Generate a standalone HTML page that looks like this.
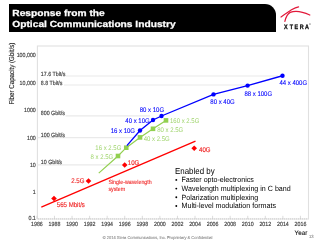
<!DOCTYPE html>
<html><head><meta charset="utf-8"><style>
html,body{margin:0;padding:0;background:#fff;}
svg{display:block;font-family:"Liberation Sans", sans-serif;will-change:transform;text-rendering:geometricPrecision;}
</style></head><body>
<svg width="320" height="240" viewBox="0 0 320 240">
<rect width="320" height="240" fill="#fff"/>
<path d="M9 4 H265 A11 11 0 0 1 276 15 V32 H9 Z" fill="#000"/>
<text transform="translate(12.3 15.7) scale(1.15 1)" font-size="8.9" font-weight="bold" fill="#fff" stroke="#fff" stroke-width="0.25">Response from the</text>
<text transform="translate(12.3 26.8) scale(1.15 1)" font-size="8.9" font-weight="bold" fill="#fff" stroke="#fff" stroke-width="0.25">Optical Communications Industry</text>
<g fill="none" stroke="#e2183a" stroke-linecap="round"><path d="M281 17 C285 14.2 289 11.6 292 9.6 C294.5 8 296.5 7.2 298.6 6.8" stroke-width="1.2"/><path d="M284.9 21.3 C285.9 17 287.4 14 290.2 12.4 C294.5 10.6 302.5 11.6 309.8 15" stroke-width="1.25"/></g>
<text transform="translate(285.75 28.8) scale(0.85 1)" font-size="6.4" font-weight="bold" fill="#111" stroke="#111" stroke-width="0.3" text-anchor="middle">X</text>
<text transform="translate(291.35 28.8) scale(0.85 1)" font-size="6.4" font-weight="bold" fill="#111" stroke="#111" stroke-width="0.3" text-anchor="middle">T</text>
<text transform="translate(296.35 28.8) scale(0.85 1)" font-size="6.4" font-weight="bold" fill="#111" stroke="#111" stroke-width="0.3" text-anchor="middle">E</text>
<text transform="translate(301.7 28.8) scale(0.85 1)" font-size="6.4" font-weight="bold" fill="#111" stroke="#111" stroke-width="0.3" text-anchor="middle">R</text>
<text transform="translate(306.85 28.8) scale(0.85 1)" font-size="6.4" font-weight="bold" fill="#111" stroke="#111" stroke-width="0.3" text-anchor="middle">A</text>
<text x="309" y="25" font-size="2.6" fill="#555">®</text>
<rect x="37.4" y="46" width="271.1" height="173" fill="none" stroke="#e0e0e0" stroke-width="1.1"/>
<line x1="65.5" y1="76" x2="278" y2="76" stroke="#eaeaea" stroke-width="1.2"/>
<line x1="64" y1="85" x2="245" y2="85" stroke="#eaeaea" stroke-width="1.2"/>
<line x1="65.5" y1="115.9" x2="150" y2="115.9" stroke="#eaeaea" stroke-width="1.2"/>
<line x1="37.5" y1="137.6" x2="134" y2="137.6" stroke="#eaeaea" stroke-width="1.2"/>
<line x1="37.5" y1="164.8" x2="122" y2="164.8" stroke="#eaeaea" stroke-width="1.2"/>
<line x1="36.90" y1="215.8" x2="36.90" y2="219" stroke="#c4c4c4" stroke-width="0.6"/>
<line x1="54.47" y1="215.8" x2="54.47" y2="219" stroke="#c4c4c4" stroke-width="0.6"/>
<line x1="72.04" y1="215.8" x2="72.04" y2="219" stroke="#c4c4c4" stroke-width="0.6"/>
<line x1="89.61" y1="215.8" x2="89.61" y2="219" stroke="#c4c4c4" stroke-width="0.6"/>
<line x1="107.18" y1="215.8" x2="107.18" y2="219" stroke="#c4c4c4" stroke-width="0.6"/>
<line x1="124.75" y1="215.8" x2="124.75" y2="219" stroke="#c4c4c4" stroke-width="0.6"/>
<line x1="142.32" y1="215.8" x2="142.32" y2="219" stroke="#c4c4c4" stroke-width="0.6"/>
<line x1="159.89" y1="215.8" x2="159.89" y2="219" stroke="#c4c4c4" stroke-width="0.6"/>
<line x1="177.46" y1="215.8" x2="177.46" y2="219" stroke="#c4c4c4" stroke-width="0.6"/>
<line x1="195.03" y1="215.8" x2="195.03" y2="219" stroke="#c4c4c4" stroke-width="0.6"/>
<line x1="212.60" y1="215.8" x2="212.60" y2="219" stroke="#c4c4c4" stroke-width="0.6"/>
<line x1="230.17" y1="215.8" x2="230.17" y2="219" stroke="#c4c4c4" stroke-width="0.6"/>
<line x1="247.74" y1="215.8" x2="247.74" y2="219" stroke="#c4c4c4" stroke-width="0.6"/>
<line x1="265.31" y1="215.8" x2="265.31" y2="219" stroke="#c4c4c4" stroke-width="0.6"/>
<line x1="282.88" y1="215.8" x2="282.88" y2="219" stroke="#c4c4c4" stroke-width="0.6"/>
<line x1="300.45" y1="215.8" x2="300.45" y2="219" stroke="#c4c4c4" stroke-width="0.6"/>
<line x1="38" y1="218.9" x2="308" y2="218.9" stroke="#c8c8c8" stroke-width="0.8" stroke-dasharray="1 1"/>
<text transform="translate(35.80 57.00) scale(0.89 1)" font-size="5.96" fill="#3c3c3c" stroke="#3c3c3c" stroke-width="0.15" text-anchor="end">100,000</text>
<text transform="translate(35.80 84.80) scale(0.89 1)" font-size="5.96" fill="#3c3c3c" stroke="#3c3c3c" stroke-width="0.15" text-anchor="end">10,000</text>
<text transform="translate(35.80 111.90) scale(0.89 1)" font-size="5.96" fill="#3c3c3c" stroke="#3c3c3c" stroke-width="0.15" text-anchor="end">1000</text>
<text transform="translate(35.80 139.50) scale(0.89 1)" font-size="5.96" fill="#3c3c3c" stroke="#3c3c3c" stroke-width="0.15" text-anchor="end">100</text>
<text transform="translate(35.80 166.80) scale(0.89 1)" font-size="5.96" fill="#3c3c3c" stroke="#3c3c3c" stroke-width="0.15" text-anchor="end">10</text>
<text transform="translate(35.80 194.20) scale(0.89 1)" font-size="5.96" fill="#3c3c3c" stroke="#3c3c3c" stroke-width="0.15" text-anchor="end">1</text>
<text transform="translate(35.80 220.10) scale(0.89 1)" font-size="5.96" fill="#3c3c3c" stroke="#3c3c3c" stroke-width="0.15" text-anchor="end">0.1</text>
<text transform="translate(36.90 225.60) scale(0.89 1)" font-size="5.96" fill="#3c3c3c" stroke="#3c3c3c" stroke-width="0.15" text-anchor="middle">1986</text>
<text transform="translate(54.47 225.60) scale(0.89 1)" font-size="5.96" fill="#3c3c3c" stroke="#3c3c3c" stroke-width="0.15" text-anchor="middle">1988</text>
<text transform="translate(72.04 225.60) scale(0.89 1)" font-size="5.96" fill="#3c3c3c" stroke="#3c3c3c" stroke-width="0.15" text-anchor="middle">1990</text>
<text transform="translate(89.61 225.60) scale(0.89 1)" font-size="5.96" fill="#3c3c3c" stroke="#3c3c3c" stroke-width="0.15" text-anchor="middle">1992</text>
<text transform="translate(107.18 225.60) scale(0.89 1)" font-size="5.96" fill="#3c3c3c" stroke="#3c3c3c" stroke-width="0.15" text-anchor="middle">1994</text>
<text transform="translate(124.75 225.60) scale(0.89 1)" font-size="5.96" fill="#3c3c3c" stroke="#3c3c3c" stroke-width="0.15" text-anchor="middle">1996</text>
<text transform="translate(142.32 225.60) scale(0.89 1)" font-size="5.96" fill="#3c3c3c" stroke="#3c3c3c" stroke-width="0.15" text-anchor="middle">1998</text>
<text transform="translate(159.89 225.60) scale(0.89 1)" font-size="5.96" fill="#3c3c3c" stroke="#3c3c3c" stroke-width="0.15" text-anchor="middle">2000</text>
<text transform="translate(177.46 225.60) scale(0.89 1)" font-size="5.96" fill="#3c3c3c" stroke="#3c3c3c" stroke-width="0.15" text-anchor="middle">2002</text>
<text transform="translate(195.03 225.60) scale(0.89 1)" font-size="5.96" fill="#3c3c3c" stroke="#3c3c3c" stroke-width="0.15" text-anchor="middle">2004</text>
<text transform="translate(212.60 225.60) scale(0.89 1)" font-size="5.96" fill="#3c3c3c" stroke="#3c3c3c" stroke-width="0.15" text-anchor="middle">2006</text>
<text transform="translate(230.17 225.60) scale(0.89 1)" font-size="5.96" fill="#3c3c3c" stroke="#3c3c3c" stroke-width="0.15" text-anchor="middle">2008</text>
<text transform="translate(247.74 225.60) scale(0.89 1)" font-size="5.96" fill="#3c3c3c" stroke="#3c3c3c" stroke-width="0.15" text-anchor="middle">2010</text>
<text transform="translate(265.31 225.60) scale(0.89 1)" font-size="5.96" fill="#3c3c3c" stroke="#3c3c3c" stroke-width="0.15" text-anchor="middle">2012</text>
<text transform="translate(282.88 225.60) scale(0.89 1)" font-size="5.96" fill="#3c3c3c" stroke="#3c3c3c" stroke-width="0.15" text-anchor="middle">2014</text>
<text transform="translate(300.45 225.60) scale(0.89 1)" font-size="5.96" fill="#3c3c3c" stroke="#3c3c3c" stroke-width="0.15" text-anchor="middle">2016</text>
<text transform="translate(294.60 235.20) scale(0.95 1)" font-size="6.63" fill="#1a1a1a" stroke="#1a1a1a" stroke-width="0.12">Year</text>
<text transform="translate(309.00 238.20) scale(0.95 1)" font-size="4.42" fill="#8c8c8c" stroke="#8c8c8c" stroke-width="0.1">13</text>
<text transform="translate(13.9 104.6) rotate(-90) scale(0.885 1)" font-size="7" fill="#222" stroke="#222" stroke-width="0.12">Fiber Capacity (Gbit/s)</text>
<text transform="translate(40.80 75.90) scale(0.89 1)" font-size="5.96" fill="#3c3c3c" stroke="#3c3c3c" stroke-width="0.15">17.6 Tbit/s</text>
<text transform="translate(40.80 84.60) scale(0.89 1)" font-size="5.96" fill="#3c3c3c" stroke="#3c3c3c" stroke-width="0.15">8.8 Tbit/s</text>
<text transform="translate(40.80 115.20) scale(0.89 1)" font-size="5.96" fill="#3c3c3c" stroke="#3c3c3c" stroke-width="0.15">800 Gbit/s</text>
<text transform="translate(40.80 137.10) scale(0.89 1)" font-size="5.96" fill="#3c3c3c" stroke="#3c3c3c" stroke-width="0.15">100 Gbit/s</text>
<text transform="translate(40.80 164.40) scale(0.89 1)" font-size="5.96" fill="#3c3c3c" stroke="#3c3c3c" stroke-width="0.15">10 Gbit/s</text>
<line x1="41.3" y1="207.1" x2="195.5" y2="141.2" stroke="#ff0000" stroke-width="1.3"/>
<path d="M54 195.7 L56.8 198.5 L54 201.3 L51.2 198.5 Z" fill="#ff0000"/>
<path d="M88.5 178.2 L91.3 181 L88.5 183.8 L85.7 181 Z" fill="#ff0000"/>
<path d="M124.7 162.2 L127.5 165 L124.7 167.8 L121.9 165 Z" fill="#ff0000"/>
<path d="M194.2 145.5 L197.0 148.3 L194.2 151.10000000000002 L191.39999999999998 148.3 Z" fill="#ff0000"/>
<text transform="translate(56.80 207.10) scale(0.89 1)" font-size="6.85" fill="#f02828" stroke="#f02828" stroke-width="0.15">565 Mbit/s</text>
<text transform="translate(84.40 183.30) scale(0.89 1)" font-size="6.85" fill="#f02828" stroke="#f02828" stroke-width="0.15" text-anchor="end">2.5G</text>
<text transform="translate(127.80 164.90) scale(0.89 1)" font-size="6.85" fill="#f02828" stroke="#f02828" stroke-width="0.15">10G</text>
<text transform="translate(199.00 151.70) scale(0.89 1)" font-size="6.85" fill="#f02828" stroke="#f02828" stroke-width="0.15">40G</text>
<text transform="translate(108.40 184.20) scale(0.89 1)" font-size="5.96" fill="#f02828" stroke="#f02828" stroke-width="0.1">Single-wavelength</text>
<text transform="translate(108.40 190.80) scale(0.89 1)" font-size="5.96" fill="#f02828" stroke="#f02828" stroke-width="0.1">system</text>
<polyline points="98.75,173.1 118,156 126.25,147.7 140,137.4 153,128.8 166,120.4" fill="none" stroke="#92d050" stroke-width="1.2"/>
<rect x="115.7" y="153.7" width="4.6" height="4.6" fill="#92d050"/>
<rect x="123.95" y="145.39999999999998" width="4.6" height="4.6" fill="#92d050"/>
<rect x="137.7" y="135.1" width="4.6" height="4.6" fill="#92d050"/>
<rect x="150.7" y="126.50000000000001" width="4.6" height="4.6" fill="#92d050"/>
<rect x="163.7" y="118.10000000000001" width="4.6" height="4.6" fill="#92d050"/>
<text transform="translate(121.30 150.20) scale(0.89 1)" font-size="6.74" fill="#9fd46c" text-anchor="end">16 x 2.5G</text>
<text transform="translate(113.20 158.80) scale(0.89 1)" font-size="6.74" fill="#9fd46c" text-anchor="end">8 x 2.5G</text>
<text transform="translate(143.75 140.60) scale(0.89 1)" font-size="6.74" fill="#9fd46c">40 x 2.5G</text>
<text transform="translate(157.20 132.00) scale(0.89 1)" font-size="6.74" fill="#9fd46c">80 x 2.5G</text>
<text transform="translate(170.00 123.30) scale(0.89 1)" font-size="6.74" fill="#9fd46c">160 x 2.5G</text>
<polyline points="126.9,145.6 140,130.5 153,120 161.5,116 213.5,94.4 247.6,85.6 282.5,75.75" fill="none" stroke="#0000ff" stroke-width="1.35"/>
<circle cx="140" cy="130.5" r="2.2" fill="#0000ff"/>
<circle cx="153" cy="120" r="2.2" fill="#0000ff"/>
<circle cx="161.5" cy="116" r="2.2" fill="#0000ff"/>
<circle cx="213.5" cy="94.4" r="2.2" fill="#0000ff"/>
<circle cx="247.6" cy="85.6" r="2.2" fill="#0000ff"/>
<circle cx="282.5" cy="75.75" r="2.2" fill="#0000ff"/>
<text transform="translate(135.00 132.90) scale(0.89 1)" font-size="6.74" fill="#0000ff" stroke="#0000ff" stroke-width="0.1" text-anchor="end">16 x 10G</text>
<text transform="translate(149.70 122.80) scale(0.89 1)" font-size="6.74" fill="#0000ff" stroke="#0000ff" stroke-width="0.1" text-anchor="end">40 x 10G</text>
<text transform="translate(139.75 112.30) scale(0.89 1)" font-size="6.74" fill="#0000ff" stroke="#0000ff" stroke-width="0.1">80 x 10G</text>
<text transform="translate(210.30 104.20) scale(0.89 1)" font-size="6.74" fill="#0000ff" stroke="#0000ff" stroke-width="0.1">80 x 40G</text>
<text transform="translate(244.40 95.60) scale(0.89 1)" font-size="6.74" fill="#0000ff" stroke="#0000ff" stroke-width="0.1">88 x 100G</text>
<text transform="translate(279.40 84.70) scale(0.89 1)" font-size="6.74" fill="#0000ff" stroke="#0000ff" stroke-width="0.1">44 x 400G</text>
<text transform="translate(175 174) scale(0.9 1)" font-size="8.8" fill="#000">Enabled by</text>
<circle cx="176.3" cy="179.90" r="0.95" fill="#000"/>
<text transform="translate(181.50 182.30) scale(0.95 1)" font-size="7.49" fill="#000">Faster opto-electronics</text>
<circle cx="176.3" cy="188.60" r="0.95" fill="#000"/>
<text transform="translate(181.50 191.00) scale(0.95 1)" font-size="7.49" fill="#000">Wavelength multiplexing in C band</text>
<circle cx="176.3" cy="197.30" r="0.95" fill="#000"/>
<text transform="translate(181.50 199.70) scale(0.95 1)" font-size="7.49" fill="#000">Polarization multiplexing</text>
<circle cx="176.3" cy="206.00" r="0.95" fill="#000"/>
<text transform="translate(181.50 208.40) scale(0.95 1)" font-size="7.49" fill="#000">Multi-level modulation formats</text>
<text transform="translate(157.60 238.50) scale(0.95 1)" font-size="4.21" fill="#8c8c8c" stroke="#8c8c8c" stroke-width="0.1" text-anchor="middle">© 2014 Xtera Communications, Inc. Proprietary &amp; Confidential</text>
</svg>
</body></html>
